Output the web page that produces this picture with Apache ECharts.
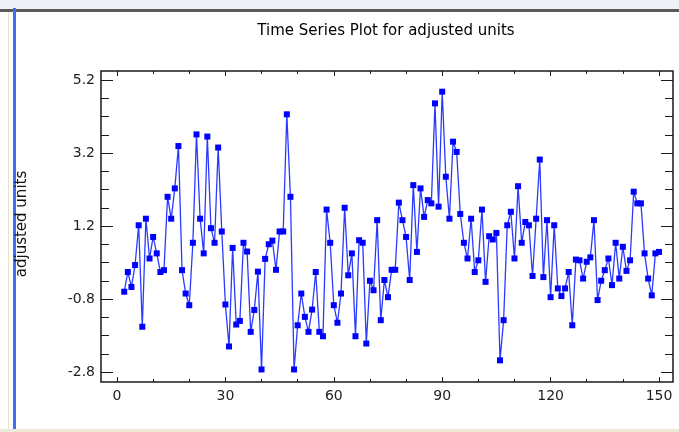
<!DOCTYPE html>
<html>
<head>
<meta charset="utf-8">
<script src="https://cdn.jsdelivr.net/npm/echarts@6/dist/echarts.min.js"></script>
<style>
html,body{margin:0;padding:0;background:#fff;}
#chart{width:679px;height:432px;}
</style>
</head>
<body>
<div id="chart"></div>
<script>
// ---- data ----
const tStart = 2; // first time index
const adjustedUnits = [
  -0.60, -0.06, -0.47, 0.13, 1.22, -1.56, 1.40, 0.31, 0.90, 0.45,
  -0.06, -0.01, 2.00, 1.40, 2.23, 3.39, -0.01, -0.65, -0.97, 0.74,
  3.71, 1.40, 0.45, 3.65, 1.14, 0.74, 3.35, 1.05, -0.95, -2.10,
  0.60, -1.50, -1.40, 0.74, 0.50, -1.70, -1.10, -0.05, -2.73, 0.30,
  0.70, 0.80, 0.00, 1.05, 1.05, 4.26, 2.00, -2.73, -1.52, -0.65,
  -1.29, -1.70, -1.09, -0.06, -1.70, -1.82, 1.65, 0.74, -0.97, -1.45,
  -0.65, 1.70, -0.15, 0.45, -1.82, 0.81, 0.74, -2.02, -0.30, -0.56,
  1.36, -1.38, -0.28, -0.75, 0.00, 0.00, 1.84, 1.36, 0.90, -0.28,
  2.32, 0.49, 2.23, 1.45, 1.91, 1.82, 4.56, 1.73, 4.88, 2.55,
  1.40, 3.51, 3.23, 1.53, 0.74, 0.31, 1.40, -0.06, 0.26, 1.65,
  -0.33, 0.92, 0.83, 1.01, -2.48, -1.38, 1.22, 1.59, 0.31, 2.29,
  0.74, 1.31, 1.22, -0.17, 1.40, 3.02, -0.20, 1.36, -0.75, 1.22,
  -0.51, -0.72, -0.51, -0.06, -1.52, 0.28, 0.26, -0.24, 0.22, 0.34,
  1.36, -0.83, -0.30, -0.01, 0.31, -0.42, 0.74, -0.24, 0.63, -0.03,
  0.26, 2.14, 1.82, 1.82, 0.45, -0.24, -0.70, 0.45, 0.49
];
const xTickLabels = ['0', '30', '60', '90', '120', '150'];
const yTickLabels = ['-2.8', '-0.8', '1.2', '3.2', '5.2'];
const titleText = 'Time Series Plot for adjusted units';
const yName = 'adjusted units';

// ---- layout ----
const W = 679, H = 432;
const frame = { left: 101, top: 71, right: 673, bottom: 382 };
const ticksBox = { left: 117, top: 80, right: 659, bottom: 372 }; // x 0..150, y -2.8..5.2
const xFirst = 0, xLast = 150, yFirst = -2.8, yLast = 5.2;
const pxX = (ticksBox.right - ticksBox.left) / (xLast - xFirst);
const pxY = (ticksBox.bottom - ticksBox.top) / (yLast - yFirst);
const xMin = xFirst - (ticksBox.left - frame.left) / pxX;
const xMax = xLast + (frame.right - ticksBox.right) / pxX;
const yMin = yFirst - (frame.bottom - ticksBox.bottom) / pxY;
const yMax = yLast + (ticksBox.top - frame.top) / pxY;
const ySpan = yLast - yFirst;
const band = 30;

const seriesData = adjustedUnits.map((v, i) => [tStart + i, v]);

const labelFont = { fontFamily: 'DejaVu Sans', fontSize: 14, color: '#222' };
const tickLine = { color: '#1a1a1a', width: 1 };

function dummy(gi) {
  return { type: 'value', gridIndex: gi, min: 0, max: 1, show: false, axisLine: { onZero: false } };
}
function xTickAxis(gi, position, interval, len, showLabel) {
  return {
    type: 'value', gridIndex: gi, position: position,
    min: 0, max: xLast - xFirst, interval: interval,
    axisLine: { show: false, onZero: false },
    splitLine: { show: false },
    axisTick: { show: true, inside: true, length: len, lineStyle: tickLine },
    axisLabel: Object.assign({
      show: showLabel, margin: 7,
      formatter: v => xTickLabels[Math.round(v / 30)] || ''
    }, labelFont)
  };
}
function yTickAxis(gi, position, interval, len, showLabel) {
  return {
    type: 'value', gridIndex: gi, position: position,
    min: 0, max: ySpan, interval: interval,
    axisLine: { show: false, onZero: false },
    splitLine: { show: false },
    axisTick: { show: true, inside: true, length: len, lineStyle: tickLine },
    axisLabel: Object.assign({
      show: showLabel, margin: 6,
      formatter: v => yTickLabels[Math.round(v / 2)] || ''
    }, labelFont)
  };
}

const chart = echarts.init(document.getElementById('chart'), null, { renderer: 'canvas' });
chart.setOption({
  animation: false,
  backgroundColor: '#ffffff',
  grid: [
    { left: frame.left, top: frame.top, width: frame.right - frame.left, height: frame.bottom - frame.top,
      show: true, borderColor: '#1a1a1a', borderWidth: 1.5, backgroundColor: 'transparent' },
    { left: frame.left, top: ticksBox.top, width: band, height: ticksBox.bottom - ticksBox.top },
    { left: frame.right - band, top: ticksBox.top, width: band, height: ticksBox.bottom - ticksBox.top },
    { left: ticksBox.left, top: frame.bottom - band, width: ticksBox.right - ticksBox.left, height: band },
    { left: ticksBox.left, top: frame.top, width: ticksBox.right - ticksBox.left, height: band }
  ],
  xAxis: [
    { type: 'value', gridIndex: 0, min: xMin, max: xMax, show: false, axisLine: { onZero: false } },
    dummy(1),
    dummy(2),
    xTickAxis(3, 'bottom', 30, 5, true),
    xTickAxis(3, 'bottom', 10, 3, false),
    xTickAxis(4, 'top', 30, 5, false),
    xTickAxis(4, 'top', 10, 3, false)
  ],
  yAxis: [
    { type: 'value', gridIndex: 0, min: yMin, max: yMax, show: false, axisLine: { onZero: false } },
    yTickAxis(1, 'left', 2, 12, true),
    yTickAxis(1, 'left', 0.5, 8, false),
    yTickAxis(2, 'right', 2, 12, false),
    yTickAxis(2, 'right', 0.5, 8, false),
    dummy(3),
    dummy(4)
  ],
  series: [{
    type: 'line', xAxisIndex: 0, yAxisIndex: 0,
    data: seriesData,
    symbol: 'rect', symbolSize: 6, showAllSymbol: true,
    lineStyle: { color: '#2a3aff', width: 1.3 },
    itemStyle: { color: '#0000ff' },
    emphasis: { disabled: true }
  }],
  graphic: [
    { type: 'rect', shape: { x: 0, y: 0, width: W, height: 9 }, style: { fill: '#eef1f5' }, silent: true },
    { type: 'rect', shape: { x: 0, y: 9, width: W, height: 3 }, style: { fill: '#5a5a5a' }, silent: true },
    { type: 'rect', shape: { x: 8, y: 12, width: 1, height: H - 12 }, style: { fill: '#e6e2cc' }, silent: true },
    { type: 'rect', shape: { x: 13, y: 8, width: 3, height: H - 8 }, style: { fill: '#3d6ef2' }, silent: true },
    { type: 'rect', shape: { x: 0, y: 429, width: W, height: 3 }, style: { fill: '#ece9d8' }, silent: true },
    { type: 'text', x: 386, y: 31, silent: true,
      style: { text: titleText, align: 'center', verticalAlign: 'middle',
               font: '15px "DejaVu Sans"', fill: '#000' } },
    { type: 'text', x: 22, y: 224, rotation: Math.PI / 2, silent: true,
      style: { text: yName, align: 'center', verticalAlign: 'middle',
               font: '15px "DejaVu Sans"', fill: '#111' } }
  ]
});
</script>
</body>
</html>
